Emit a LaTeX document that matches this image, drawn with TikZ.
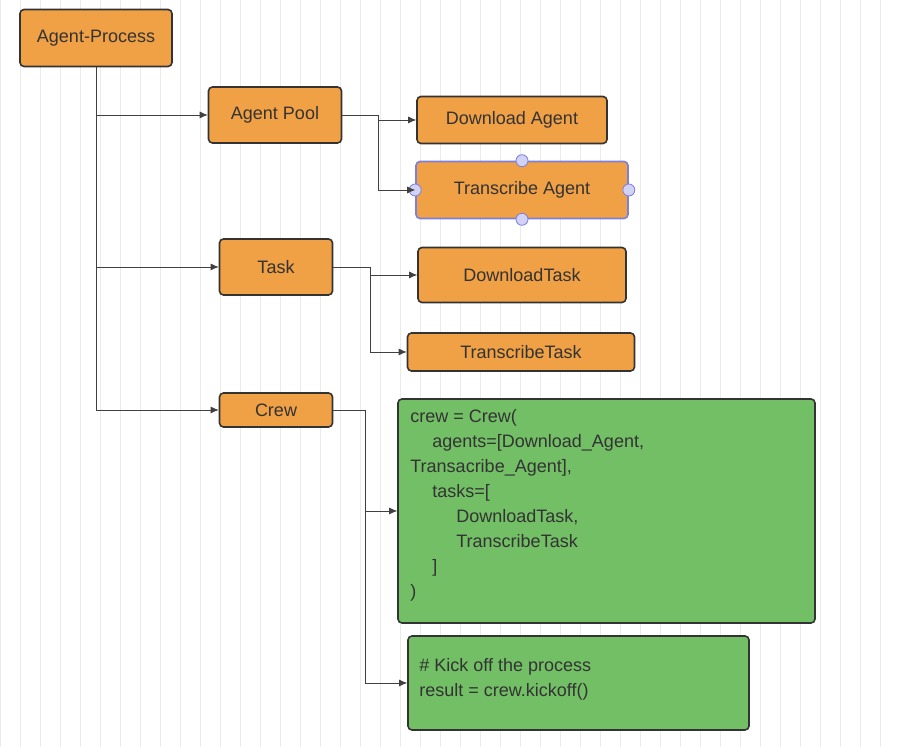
\documentclass[tikz,border=0pt]{standalone}
\usepackage{fontspec}
\setmainfont{Liberation Sans}
\usetikzlibrary{positioning,arrows.meta}
\definecolor{boxorange}{HTML}{F0A045}
\definecolor{boxgreen}{HTML}{73BF66}
\definecolor{selblue}{HTML}{7B7FE0}
\begin{document}
\begin{tikzpicture}[x=0.5pt,y=-0.5pt,
    every node/.style={font=\fontsize{9}{12.5}\selectfont, text=black!80},
    proc/.style={draw=black!80,thick,fill=boxorange,rounded corners=2pt,inner sep=0pt},
    code/.style={draw=black!80,thick,fill=boxgreen,rounded corners=2pt,inner sep=0pt},
    conn/.style={draw=black!75,-{Latex[length=4pt,width=3.5pt]}},
    handle/.style={circle,draw=selblue,fill=selblue!35,inner sep=0pt,minimum size=6pt}]
    \useasboundingbox (0,0) rectangle (900,747);
    \fill[white] (0,0) rectangle (900,747);
    \draw[black!8] (0,0) grid[step=20] (900,747);

    \node[proc,minimum width=76pt,minimum height=28.5pt] at (96,38) (ap) {Agent-Process};
    \node[proc,minimum width=66.5pt,minimum height=28pt] at (275,115) (pool) {Agent Pool};
    \node[proc,minimum width=95pt,minimum height=23.5pt] at (512,120) (dla) {Download Agent};
    \node[proc,draw=selblue,minimum width=106pt,minimum height=28.5pt] at (522,190) (tra) {Transcribe Agent};
    \node[proc,minimum width=56.5pt,minimum height=28pt] at (276,267) (task) {Task};
    \node[proc,minimum width=104pt,minimum height=27.5pt] at (522,275) (dlt) {DownloadTask};
    \node[proc,minimum width=113.5pt,minimum height=19pt] at (521,352) (trt) {TranscribeTask};
    \node[proc,minimum width=56.5pt,minimum height=17pt] at (276,410) (crew) {Crew};
    \node[code,minimum width=208.5pt,minimum height=112pt] at (606.5,511) (cbox) {};
    \node[code,minimum width=170.5pt,minimum height=47pt] at (578.5,683) (kbox) {};

    % handles on the selected node
    \foreach \a in {north,south,east,west}
        \node[handle] at (tra.\a) {};

    % code text
    \node[anchor=north west,align=left,inner sep=0pt] at (410,409) (ctext) {%
        crew = Crew(\\
        \hspace{11pt}agents=[Download\_Agent,\\
        Transacribe\_Agent],\\
        \hspace{11pt}tasks=[\\
        \hspace{23pt}DownloadTask,\\
        \hspace{23pt}TranscribeTask\\
        \hspace{11pt}]\\
        )};
    \node[anchor=north west,align=left,inner sep=0pt] at (419,658) (ktext) {%
        \# Kick off the process\\
        result = crew.kickoff()};

    % connectors
    \draw[conn] (ap.south) |- (pool.west);
    \draw[conn] (ap.south) |- (task.west);
    \draw[conn] (ap.south) |- (crew.west);

    \coordinate (j1) at (378,115);
    \draw[conn] (pool.east) -- (j1) |- (dla.west);
    \draw[conn] (pool.east) -- (j1) |- (tra.west);

    \coordinate (j2) at (370,267);
    \draw[conn] (task.east) -- (j2) |- (dlt.west);
    \draw[conn] (task.east) -- (j2) |- (trt.west);

    \coordinate (j3) at (365,410);
    \draw[conn] (crew.east) -- (j3) |- (cbox.west);
    \draw[conn] (crew.east) -- (j3) |- (kbox.west);
\end{tikzpicture}
\end{document}
